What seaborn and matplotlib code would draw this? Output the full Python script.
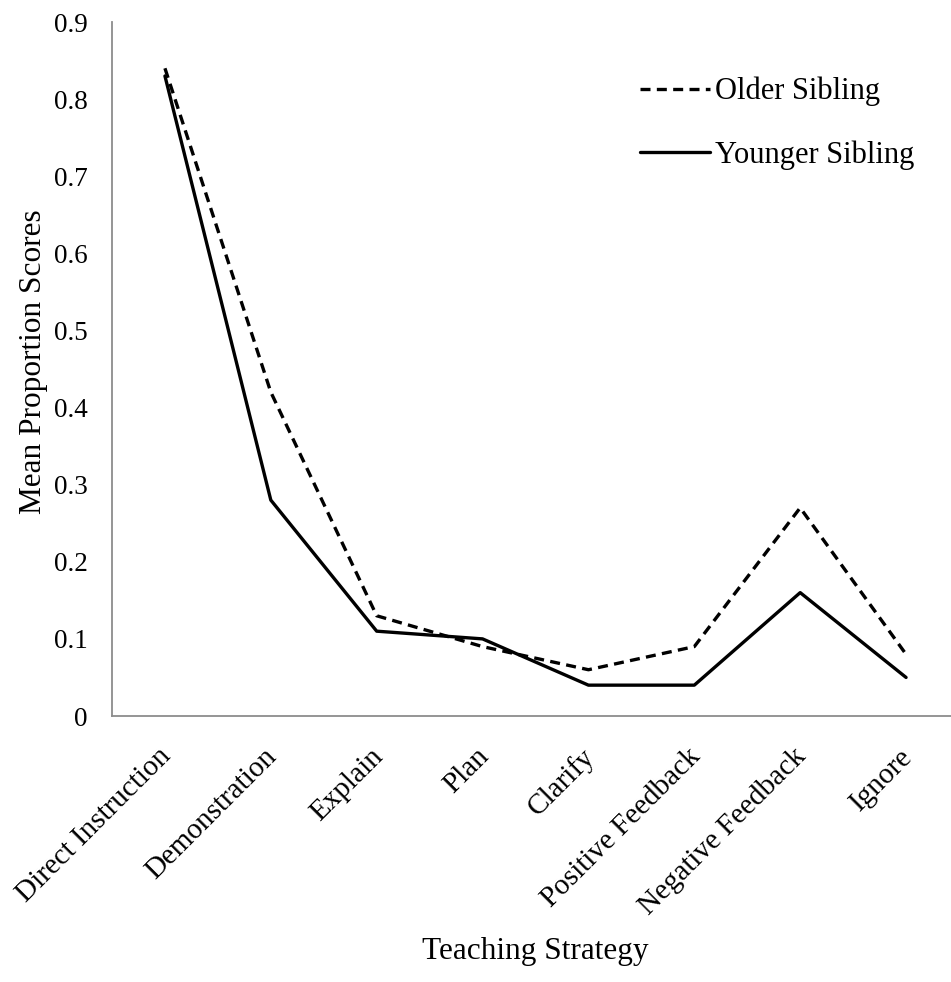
import matplotlib
matplotlib.use("Agg")
import matplotlib.pyplot as plt
import matplotlib.transforms as mtransforms
from matplotlib.lines import Line2D
import seaborn as sns
import pandas as pd
import numpy as np

categories = ["Direct Instruction", "Demonstration", "Explain", "Plan", "Clarify",
              "Positive Feedback", "Negative Feedback", "Ignore"]
older = [0.84, 0.42, 0.13, 0.09, 0.06, 0.09, 0.27, 0.08]
younger = [0.83, 0.28, 0.11, 0.10, 0.04, 0.04, 0.16, 0.05]
series_names = ["Older Sibling", "Younger Sibling"]
y_ticks = [0, 0.1, 0.2, 0.3, 0.4, 0.5, 0.6, 0.7, 0.8, 0.9]
y_tick_labels = ["0", "0.1", "0.2", "0.3", "0.4", "0.5", "0.6", "0.7", "0.8", "0.9"]

sns.set_style("white")
plt.rcParams['font.family'] = ['Liberation Serif', 'DejaVu Serif']
plt.rcParams['text.color'] = 'black'
plt.rcParams['axes.labelcolor'] = 'black'

rows = []
for i, c in enumerate(categories):
    rows.append({"Strategy": c, "idx": i, "Score": older[i], "Sibling": series_names[0]})
    rows.append({"Strategy": c, "idx": i, "Score": younger[i], "Sibling": series_names[1]})
df = pd.DataFrame(rows)

W, H = 951, 982
fig = plt.figure(figsize=(W / 100, H / 100), dpi=100)
ax_left, ax_right, ax_top, ax_bottom = 112, 959, 22, 716
ax = fig.add_axes([ax_left / W, 1 - ax_bottom / H, (ax_right - ax_left) / W, (ax_bottom - ax_top) / H])

dash = (3, 1.9)
sns.lineplot(data=df, x="idx", y="Score", hue="Sibling", style="Sibling",
             palette={series_names[0]: "black", series_names[1]: "black"},
             dashes={series_names[0]: dash, series_names[1]: ""},
             linewidth=2.4, ax=ax, legend=False, sort=False)

ax.set_xlim(-0.5, len(categories) - 0.5)
ax.set_ylim(0, 0.9)
ax.set_yticks(y_ticks)
ax.set_yticklabels(y_tick_labels, fontsize=19.5)
ax.set_xticks(np.arange(len(categories)))
ax.set_xticks(np.arange(len(categories) + 1) - 0.5, minor=True)
ax.tick_params(axis="x", which="major", length=0, pad=14, labelcolor="black")
ax.tick_params(axis="x", which="minor", length=7, width=1.3, color="#8c8c8c", direction="out")
ax.tick_params(axis="y", which="major", length=6, width=1.3, color="#8c8c8c", direction="out",
               pad=11.5, labelcolor="black")
ax.set_xticklabels(categories, fontsize=21, rotation=45, ha="right", rotation_mode="anchor")
offset = mtransforms.ScaledTranslation(-7 / 100, -8 / 100, fig.dpi_scale_trans)
for lab in ax.get_xticklabels():
    lab.set_transform(lab.get_transform() + offset)

for s in ["top", "right"]:
    ax.spines[s].set_visible(False)
for s in ["left", "bottom"]:
    ax.spines[s].set_color("#8c8c8c")
    ax.spines[s].set_linewidth(1.3)

ax.set_xlabel("Teaching Strategy", fontsize=22.5, color="black")
ax.set_ylabel("Mean Proportion Scores", fontsize=22.5, color="black")
ax.xaxis.set_label_coords(0.5, -0.318)
ax.yaxis.set_label_coords(-0.076, 0.51)

handles = [Line2D([0], [0], color="black", lw=2.4, dashes=dash),
           Line2D([0], [0], color="black", lw=2.4)]
leg = fig.legend(handles, series_names, loc="upper left",
                 bbox_to_anchor=(640 / W, 1 - 77 / H), bbox_transform=fig.transFigure,
                 frameon=False, fontsize=22, handlelength=2.3, handletextpad=0.15,
                 labelspacing=1.1, borderpad=0, borderaxespad=0, labelcolor="black")

fig.savefig("out.png", dpi=100)
